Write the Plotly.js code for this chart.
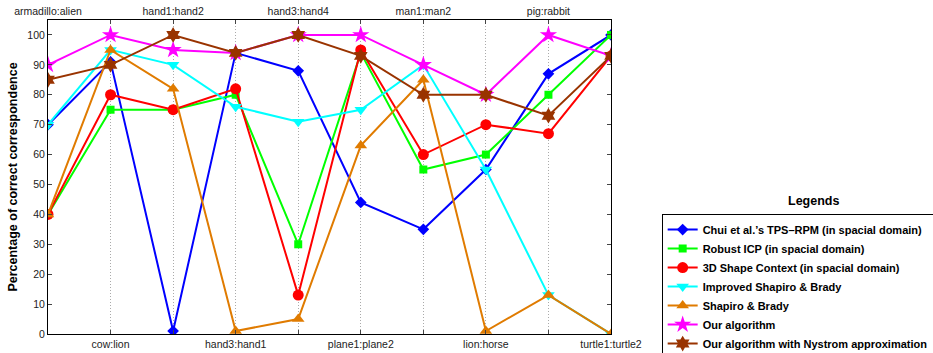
<!DOCTYPE html>
<html><head><meta charset="utf-8">
<script src="https://cdn.plot.ly/plotly-3.0.1.min.js"></script>
<style>html,body{margin:0;padding:0;background:#fff}#chart{width:933px;height:353px}</style>
</head><body><div id="chart"></div>
<script>
const categories = ["armadillo:alien","cow:lion","hand1:hand2","hand3:hand1","hand3:hand4","plane1:plane2","man1:man2","lion:horse","pig:rabbit","turtle1:turtle2"];
const chui      = [70, 91, 1, 94, 88, 44, 35, 55, 87, 100];
const robustICP = [40, 75, 75, 80, 30, 94, 55, 60, 80, 100];
const shapeCtx  = [40, 80, 75, 82, 13, 95, 60, 70, 67, 93];
const improvedSB= [70, 95, 90, 76, 71, 75, 90, 55, 13, 0];
const shapiroB  = [40, 95, 82, 1, 5, 63, 85, 1, 13, 0];
const ourAlg    = [90, 100, 95, 94, 100, 100, 90, 80, 100, 93];
const nystrom   = [85, 90, 100, 94, 100, 93, 80, 80, 73, 93];
const seriesNames = ["Chui et al.\u2019s TPS\u2013RPM (in spacial domain)","Robust ICP (in spacial domain)","3D Shape Context (in spacial domain)","Improved Shapiro & Brady","Shapiro & Brady","Our algorithm","Our algorithm with Nystrom approximation"];

const xs = categories.map((c,i)=>i);
const oddIdx = xs.filter(i=>i%2===1), evenIdx = xs.filter(i=>i%2===0);
const series = [chui, robustICP, shapeCtx, improvedSB, shapiroB, ourAlg, nystrom];
const colors = ["#0000ff","#00ff00","#ff0000","#00ffff","#e07b00","#ff00ff","#993300"];
const symbols = ["diamond","square","circle","triangle-down","triangle-up","star","hexagram"];
const sizes = [9,8,11,11,11,13,12];
const traces = series.map((s,k)=>({
  x: xs, y: s, name: seriesNames[k], type:"scatter", mode:"lines+markers",
  line:{color:colors[k], width:2}, marker:{color:colors[k], symbol:symbols[k], size:sizes[k]}
}));
traces.push({x:[0,9], y:[null,null], xaxis:"x2", showlegend:false, hoverinfo:"skip", mode:"lines"});

const tickFont = {family:"Liberation Sans, Arial, sans-serif", size:10.5, color:"#222"};
const gridStyle = {showgrid:true, gridcolor:"#aaa", griddash:"1px,2px", gridwidth:1};
const layout = {
  width:933, height:353,
  margin:{l:48, r:322, t:20, b:19, autoexpand:false},
  paper_bgcolor:"#fff", plot_bgcolor:"#fff",
  showlegend:true,
  xaxis:Object.assign({range:[0,9], tickvals:oddIdx, ticktext:oddIdx.map(i=>categories[i]), ticks:"inside", ticklen:4,
    showline:true, linecolor:"#000", linewidth:1, mirror:"ticks", zeroline:false, tickfont:tickFont}, gridStyle),
  xaxis2:Object.assign({range:[0,9], overlaying:"x", side:"top", tickvals:evenIdx, ticktext:evenIdx.map(i=>categories[i]), ticks:"inside", ticklen:4,
    showline:true, linecolor:"#000", linewidth:1, mirror:"ticks", zeroline:false, tickfont:tickFont}, gridStyle),
  yaxis:{range:[0,105], tickvals:[0,10,20,30,40,50,60,70,80,90,100], ticks:"inside", ticklen:4,
    showline:true, linecolor:"#000", linewidth:1, mirror:"ticks", showgrid:false, zeroline:false, tickfont:tickFont,
    title:{text:"<b>Percentage of correct correspondence</b>", font:{family:"Liberation Sans, Arial, sans-serif", size:12.5, color:"#000"}, standoff:6}},
  legend:{x:1.09, y:0.382, xanchor:"left", yanchor:"top", bordercolor:"#000", borderwidth:1, bgcolor:"#fff",
    font:{family:"Liberation Sans, Arial, sans-serif", size:11, color:"#000", weight:"bold"}, tracegroupgap:0, itemwidth:30},
  annotations:[{text:"<b>Legends</b>", xref:"paper", yref:"paper", x:1.3605, y:0.425, xanchor:"center", yanchor:"middle", showarrow:false,
    font:{family:"Liberation Sans, Arial, sans-serif", size:12.5, color:"#000"}}]
};
Plotly.newPlot("chart", traces, layout, {displayModeBar:false, staticPlot:true});
</script></body></html>
